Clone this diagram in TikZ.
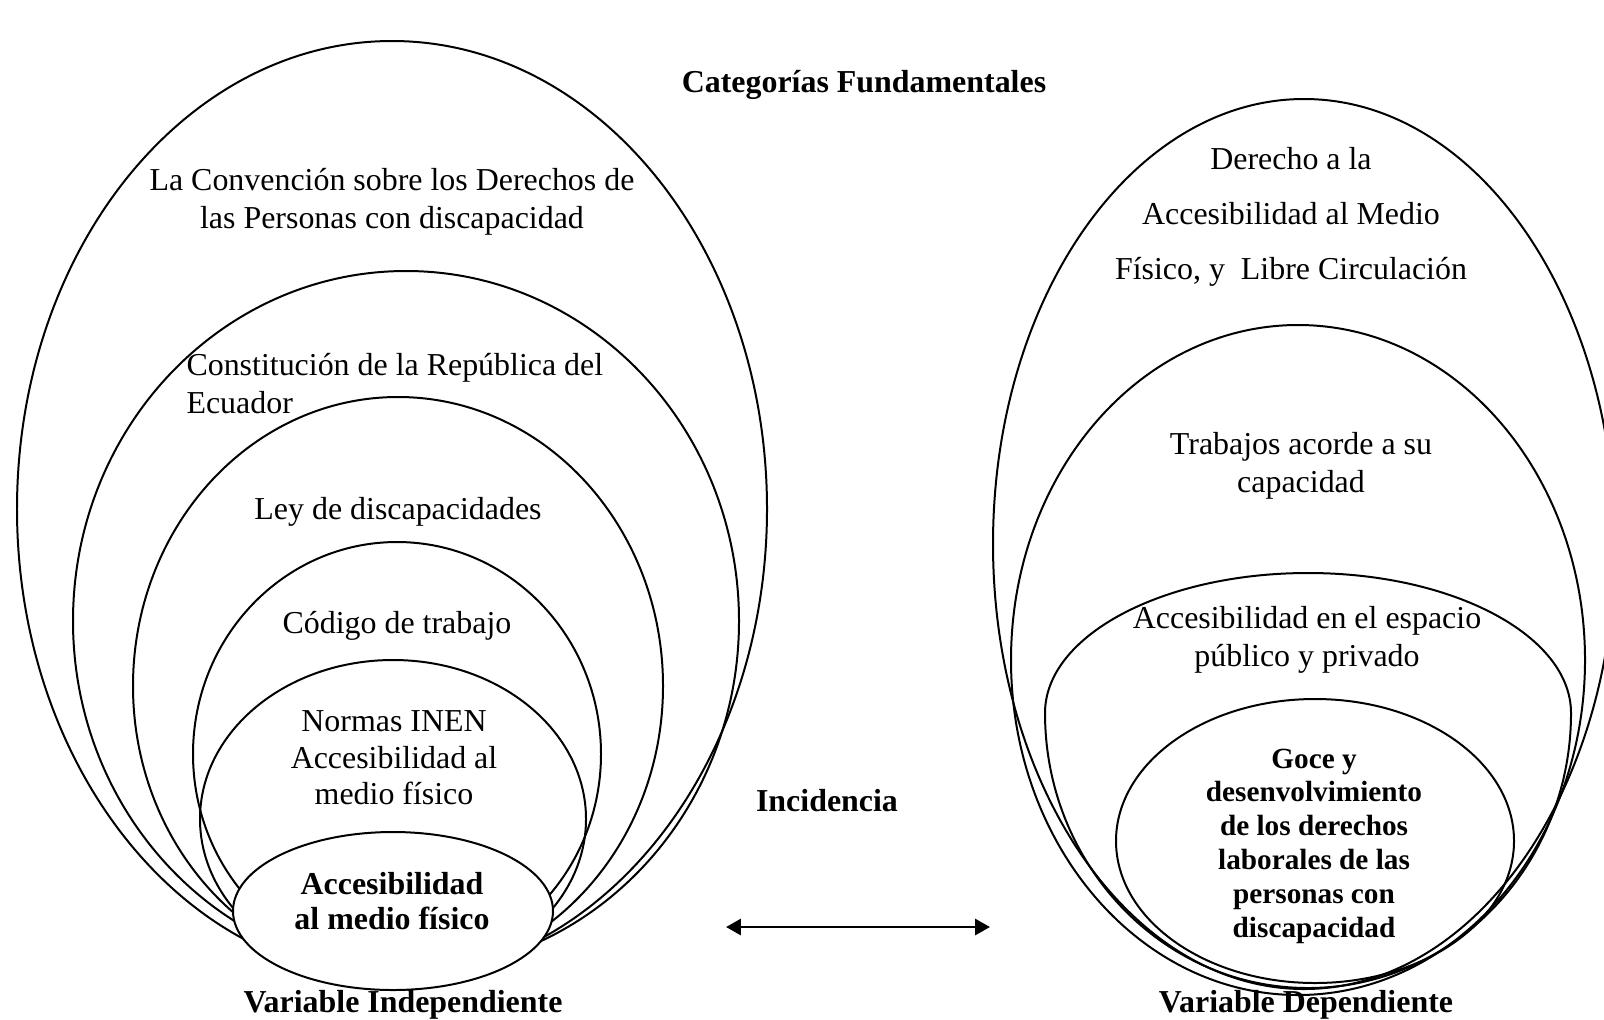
\documentclass[tikz,border=0pt]{standalone}
\usepackage{fontspec}
\setmainfont{Liberation Serif}
\usetikzlibrary{arrows.meta}

\begin{document}
\begin{tikzpicture}[x=0.01322cm,y=-0.01322cm,
  ring/.style={draw=black,line width=0.75pt},
  lbl/.style={align=center,inner sep=0pt,font=\fontsize{12}{14.3}\selectfont},
  blbl/.style={align=center,inner sep=0pt,font=\fontsize{12}{13.2}\selectfont\bfseries}]
\clip (0,0) rectangle (1604,1019);
\draw[ring] (392,509) ellipse [x radius=375, y radius=468];
\draw[ring] (406,621) ellipse [x radius=333, y radius=350];
\draw[ring] (398,686) ellipse [x radius=265, y radius=289];
\draw[ring] (397,754) ellipse [x radius=204, y radius=212];
\draw[ring] (393,819) ellipse [x radius=193, y radius=159];
\draw[ring,fill=white] (393,911) ellipse [x radius=160, y radius=79];
\draw[ring] (1304,544) ellipse [x radius=311, y radius=445];
\draw[ring] (1298,660) ellipse [x radius=287, y radius=335];
\draw[ring] (1045,713) arc[start angle=180, end angle=360, x radius=263, y radius=140]
  arc[start angle=0, end angle=180, x radius=263, y radius=275] -- cycle;
\draw[ring] (1315,841) ellipse [x radius=199, y radius=142];
\node[blbl] (titulo) at (864,85) {Categorías Fundamentales};
\node[lbl] (convencion) at (392,202) {La Convención sobre los Derechos de\\las Personas con discapacidad};
\node[lbl,anchor=west,align=left] (constitucion) at (186,384) {Constitución de la República del\\Ecuador};
\node[lbl] (ley) at (398,512) {Ley de discapacidades};
\node[lbl] (codigo) at (397,626) {Código de trabajo};
\node[lbl,font=\fontsize{12}{13.7}\selectfont] (normas) at (394,758) {Normas INEN\\Accesibilidad al\\medio físico};
\node[blbl] (accfisico) at (392,901) {Accesibilidad\\al medio físico};
\node[blbl] (varind) at (403,1005) {Variable Independiente};
\node[blbl] (incidencia) at (827,801) {Incidencia};
\node[lbl,font=\fontsize{12}{20.7}\selectfont] (derecho) at (1291,217) {Derecho a la\\Accesibilidad al Medio\\Físico, y\ \ Libre Circulación};
\node[lbl] (trabajos) at (1301,466) {Trabajos acorde a su\\capacidad};
\node[lbl] (espacio) at (1307,640) {Accesibilidad en el espacio\\público y privado};
\node[blbl,font=\fontsize{11}{12.7}\selectfont\bfseries] (goce) at (1314,846) {Goce y\\desenvolvimiento\\de los derechos\\laborales de las\\personas con\\discapacidad};
\node[blbl] (vardep) at (1306,1005) {Variable Dependiente};
\coordinate (izq) at (726,927);
\coordinate (der) at (990,927);
\draw[{Triangle[length=5.6pt,width=6pt]}-{Triangle[length=5.6pt,width=6pt]},line width=1.1pt] (izq) -- (der);
\end{tikzpicture}
\end{document}
